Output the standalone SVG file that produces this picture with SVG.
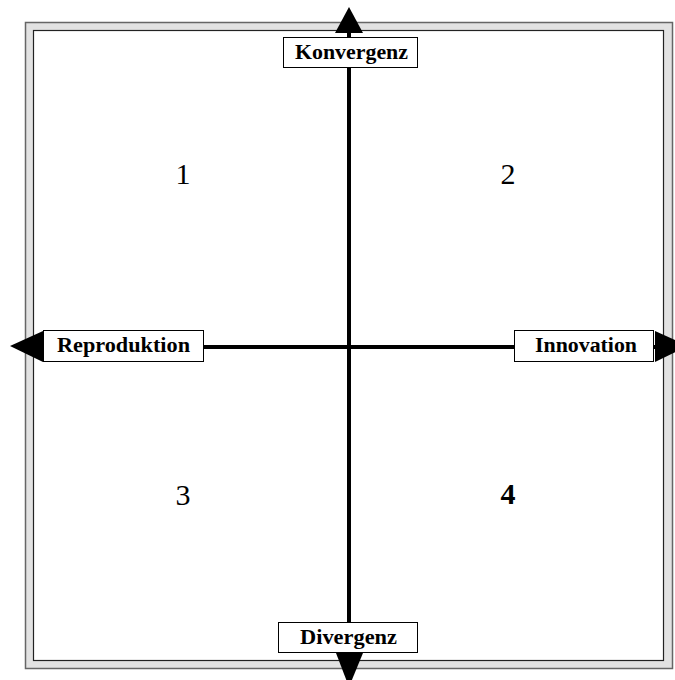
<svg xmlns="http://www.w3.org/2000/svg" width="675" height="680" viewBox="0 0 675 680">
<style>
.lbl{font-family:"Liberation Serif","Times New Roman",serif;font-weight:bold;font-size:20px;fill:#000}
.num{font-family:"Liberation Serif","Times New Roman",serif;font-size:30px;fill:#000;text-anchor:middle}
.box{fill:#fff;stroke:#000;stroke-width:1}
.axis{stroke:#000;stroke-width:4;fill:none}
</style>
<rect width="675" height="680" fill="#fff"/>
<g id="frame">
<path d="M25.5,22.5H672.5V668.5H25.5Z M33.5,30.5V660.5H663.5V30.5Z" fill="#e2e2e2" fill-rule="evenodd"/>
<rect x="25.5" y="22.5" width="647" height="646" fill="none" stroke="#666" stroke-width="1.5"/>
<rect x="33.5" y="30.5" width="630" height="630" fill="none" stroke="#222" stroke-width="1.2"/>
</g>
<g id="connectors">
<line class="axis" x1="349" y1="30" x2="349" y2="660"/>
<line class="axis" x1="40" y1="347" x2="660" y2="347"/>
<polygon points="349,7 335,33 363,33" fill="#000"/>
<polygon points="349,687 336,653 363,653" fill="#000"/>
<polygon points="10,346 43,331 43,362" fill="#000"/>
<polygon points="688,346 655,331 655,362" fill="#000"/>
</g>
<g id="konvergenz">
<rect class="box" x="283.5" y="37.5" width="134" height="30"/>
<text class="lbl" x="295" y="59" textLength="113" lengthAdjust="spacingAndGlyphs">Konvergenz</text>
</g>
<g id="reproduktion">
<rect class="box" x="43.5" y="330.5" width="160" height="31"/>
<text class="lbl" x="57" y="352" textLength="133" lengthAdjust="spacingAndGlyphs">Reproduktion</text>
</g>
<g id="innovation">
<rect class="box" x="514.5" y="330.5" width="139" height="31"/>
<text class="lbl" x="535" y="352" textLength="102" lengthAdjust="spacingAndGlyphs">Innovation</text>
</g>
<g id="divergenz">
<rect class="box" x="278.5" y="622.5" width="139" height="30"/>
<text class="lbl" x="300" y="644" textLength="97" lengthAdjust="spacingAndGlyphs">Divergenz</text>
</g>
<g id="q1"><text class="num" x="183" y="184">1</text></g>
<g id="q2"><text class="num" x="508" y="184">2</text></g>
<g id="q3"><text class="num" x="183" y="505">3</text></g>
<g id="q4"><text class="num" x="508" y="504" font-weight="bold">4</text></g>
</svg>
